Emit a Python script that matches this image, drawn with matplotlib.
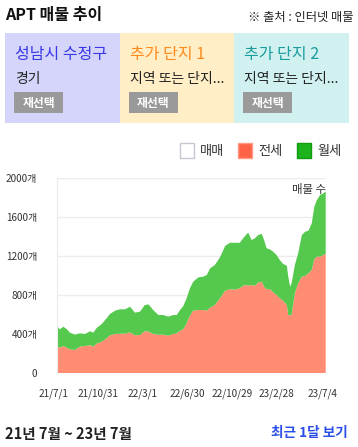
import matplotlib
matplotlib.use("Agg")
import matplotlib.pyplot as plt
import matplotlib.patches as patches
import matplotlib.transforms as mtransforms
import pandas as pd

plt.rcParams['font.family'] = ['Noto Sans CJK KR', 'DejaVu Sans']

# ---------------- data ----------------
start_date = "2021-07-01"
day_offsets = [0, 9, 18, 27, 36, 50, 63, 77, 91, 100, 109, 123, 136, 145, 159, 172, 186,
               200, 213, 227, 240, 250, 263, 277, 290, 304, 318, 327, 336, 345, 354, 363,
               372, 386, 399, 409, 418, 431, 445, 459, 472, 486, 499, 508, 518, 522, 531,
               540, 549, 559, 565, 572, 581, 590, 599, 608, 617, 627, 631, 636, 640, 649,
               658, 668, 677, 686, 695, 702, 709, 718, 727, 733]
total_listings = [485, 448, 475, 451, 414, 393, 407, 400, 428, 414, 462, 503, 561, 605, 639,
                  653, 653, 680, 619, 629, 697, 704, 646, 595, 595, 578, 595, 595, 646, 687,
                  766, 868, 936, 981, 988, 1005, 1073, 1108, 1187, 1303, 1336, 1335, 1336,
                  1381, 1426, 1439, 1364, 1381, 1415, 1426, 1364, 1279, 1268, 1244, 1210,
                  1159, 1118, 1101, 988, 885, 919, 1108, 1228, 1415, 1449, 1459, 1535, 1706,
                  1774, 1826, 1843, 1860]
jeonse = [270, 260, 277, 260, 243, 236, 270, 277, 284, 270, 301, 321, 356, 386, 400, 403,
          403, 417, 386, 390, 428, 424, 400, 393, 393, 383, 400, 407, 434, 448, 509, 588,
          639, 646, 646, 639, 670, 697, 766, 844, 858, 856, 868, 895, 902, 895, 902, 895,
          926, 936, 885, 858, 861, 827, 800, 766, 741, 697, 595, 590, 595, 817, 919, 988,
          995, 1022, 1057, 1166, 1193, 1193, 1210, 1225]
wolse = [t - j for t, j in zip(total_listings, jeonse)]
maemae = [0] * len(jeonse)

tick_dates = ["2021-07-01", "2021-10-31", "2022-03-01", "2022-06-30", "2022-10-29",
              "2023-02-28", "2023-07-04"]
tick_labels = ["21/7/1", "21/10/31", "22/3/1", "22/6/30", "22/10/29", "23/2/28", "23/7/4"]
y_ticks = [0, 400, 800, 1200, 1600, 2000]
y_tick_labels = ["0", "400개", "800개", "1200개", "1600개", "2000개"]

panel_titles = ["성남시 수정구", "추가 단지 1", "추가 단지 2"]
panel_subs = ["경기", "지역 또는 단지...", "지역 또는 단지..."]
legend_names = ["매매", "전세", "월세"]

# ---------------- figure ----------------
W, H = 358, 447
fig = plt.figure(figsize=(W / 100, H / 100), dpi=100)

def px(x, y):
    return x / W, 1 - y / H

# header
fig.text(*px(5, 15), "APT 매물 추이", fontsize=11.5, fontweight='bold', color='#111111',
         va='center', ha='left')
fig.text(*px(354, 17), "※ 출처 : 인터넷 매물", fontsize=8.8, color='#222222',
         va='center', ha='right')

panel_bounds = [(5, 119.5), (119.5, 234), (234, 349)]
panel_colors = ["#d5d5fc", "#ffeec6", "#d1f1f1"]
title_colors = ["#3838e6", "#ff8a1c", "#1a9c9c"]
for (x0, x1), pc, tc, t, s in zip(panel_bounds, panel_colors, title_colors, panel_titles, panel_subs):
    fig.patches.append(patches.Rectangle(px(x0, 123), (x1 - x0) / W, 90 / H,
                                         transform=fig.transFigure, facecolor=pc,
                                         edgecolor='none', zorder=0))
    fig.text(*px(x0 + 10, 54), t, fontsize=11.5, color=tc, fontweight='medium',
             va='center', ha='left')
    fig.text(*px(x0 + 10, 79), s, fontsize=10, color='#222222', va='center', ha='left')
    fig.patches.append(patches.Rectangle(px(x0 + 9.3, 113.3), 49 / W, 21 / H,
                                         transform=fig.transFigure, facecolor='#9a9a9a',
                                         edgecolor='none', zorder=1))
    fig.text(*px(x0 + 33.8, 103), "재선택", fontsize=8.5, color='white', fontweight='bold',
             va='center', ha='center', zorder=2)

# legend
leg_items = [(179.5, "#ffffff", "#c8c8d2"), (237.5, "#ff6347", "#ff9a86"), (296.5, "#1db31d", "#129a12")]
for (lx, fc, ec), name in zip(leg_items, legend_names):
    fig.patches.append(patches.Rectangle(px(lx, 157.5), 14.5 / W, 14.5 / H,
                                         transform=fig.transFigure, facecolor=fc,
                                         edgecolor=ec, linewidth=1.0, zorder=1))
    fig.text(*px(lx + 20.5, 151), name, fontsize=9.5, color='#333333', va='center', ha='left')

# chart
ax = fig.add_axes([56.7 / W, 1 - 373 / H, (325.7 - 56.7) / W, (373 - 178) / H])
dates = pd.to_datetime(start_date) + pd.to_timedelta(day_offsets, unit='D')
ax.stackplot(dates, maemae, jeonse, wolse, colors=["#ffffff", "#ff8c73", "#55c94d"],
             linewidth=0)
ax.set_xlim(pd.to_datetime(start_date), dates[-1])
ax.set_ylim(0, 2000)
ax.set_yticks(y_ticks)
ax.set_yticklabels(y_tick_labels)
ax.set_xticks(pd.to_datetime(tick_dates))
ax.set_xticklabels(tick_labels)
ax.tick_params(axis='both', length=0, labelsize=7.2, colors='#333333')
ax.tick_params(axis='x', pad=11)
ax.tick_params(axis='y', pad=14)
offset = mtransforms.ScaledTranslation(-3 / 100, 0, fig.dpi_scale_trans)
for lab in ax.get_xticklabels():
    lab.set_transform(lab.get_transform() + offset)
ax.grid(axis='y', color='#ececec', linewidth=1.0)
ax.set_axisbelow(True)
for sp in ['top', 'right', 'bottom']:
    ax.spines[sp].set_visible(False)
ax.spines['left'].set_color('#ececec')
ax.set_facecolor('white')
ax.text(1.0, 0.94, "매물 수", transform=ax.transAxes, fontsize=8.2, color='#333333',
        ha='right', va='center')

# footer
fig.text(*px(5, 434), "21년 7월 ~ 23년 7월", fontsize=10.5, fontweight='bold', color='#222222',
         va='center', ha='left')
fig.text(*px(348, 433), "최근 1달 보기", fontsize=9.8, fontweight='bold', color='#2a4ee8',
         va='center', ha='right')

fig.savefig("out.png", dpi=100)
